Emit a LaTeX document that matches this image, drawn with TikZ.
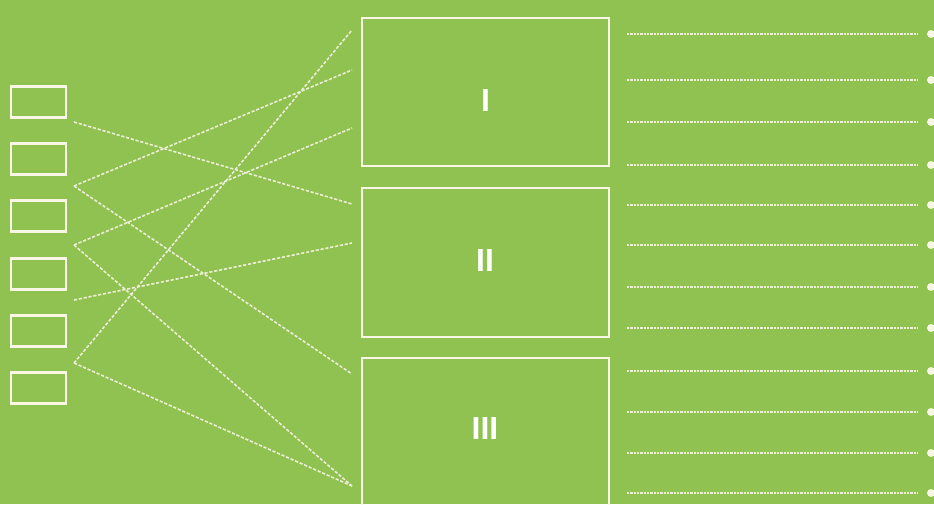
\documentclass[tikz,border=0pt]{standalone}
\usepackage{fontspec}
\setmainfont{Liberation Sans}
\definecolor{bgcol}{RGB}{143,194,80}
\definecolor{linecol}{RGB}{248,246,228}
\definecolor{dashcol}{RGB}{236,238,214}
\begin{document}
\begin{tikzpicture}[x=0.75pt,y=-0.75pt,
  smallbox/.style={draw=linecol, line width=1.8pt, minimum width=41.25pt, minimum height=23.5pt, inner sep=0pt, outer sep=0pt},
  bigbox/.style={draw=linecol, line width=2.1pt, minimum width=185.25pt, inner sep=0pt, outer sep=0pt},
  crossline/.style={draw=dashcol, line width=1.2pt, dash pattern=on 2.4pt off 1.3pt},
  ruleline/.style={draw=dashcol, line width=1.2pt, dash pattern=on 1.8pt off 0.7pt},
  dotmark/.style={circle, fill=linecol, inner sep=0pt, minimum size=6pt},
  lab/.style={text=white, inner sep=0pt, font=\fontsize{24}{28}\selectfont\bfseries}]
\fill[bgcol] (0,0) rectangle (934,504);
\useasboundingbox (0,0) rectangle (934,504);
\clip (0,0) rectangle (934,504);

% small boxes on the left
\foreach \y [count=\i] in {102,159,216,274,331,388}
  \node[smallbox] (sb\i) at (38.5,\y) {};

% big boxes
\node[bigbox, minimum height=111pt] (b1) at (485.5,92) {};
\node[bigbox, minimum height=111.75pt] (b2) at (485.5,262.5) {};
\node[bigbox, minimum height=123pt] (b3) at (485.5,440) {};
\node[lab] (t1) at (485.5,100.5) {I};
\node[lab] (t2) at (485,260) {II};
\node[lab] (t3) at (485,428) {III};

% crossing connectors
\coordinate (L1) at (74,122);
\coordinate (L2) at (74,186);
\coordinate (L3) at (74,245);
\coordinate (L4) at (74,300);
\coordinate (L5) at (74,363);
\coordinate (R1) at (352,30);
\coordinate (R2) at (352,70);
\coordinate (R3) at (352,128);
\coordinate (R4) at (352,204);
\coordinate (R5) at (352,243);
\coordinate (R6) at (352,374);
\coordinate (R7) at (352,486);
\draw[crossline] (L1) -- (R4);
\draw[crossline] (L2) -- (R2);
\draw[crossline] (L2) -- (R6);
\draw[crossline] (L3) -- (R3);
\draw[crossline] (L3) -- (R7);
\draw[crossline] (L4) -- (R5);
\draw[crossline] (L5) -- (R1);
\draw[crossline] (L5) -- (R7);

% ruled lines on the right
\foreach \y [count=\i] in {34,80,122,165,205,245,287,328,371,412,453,493} {
  \coordinate (s\i) at (627,\y);
  \coordinate (e\i) at (918,\y);
  \node[dotmark] (d\i) at (931,\y) {};
  \draw[ruleline] (s\i) -- (e\i);
}
\end{tikzpicture}
\end{document}
